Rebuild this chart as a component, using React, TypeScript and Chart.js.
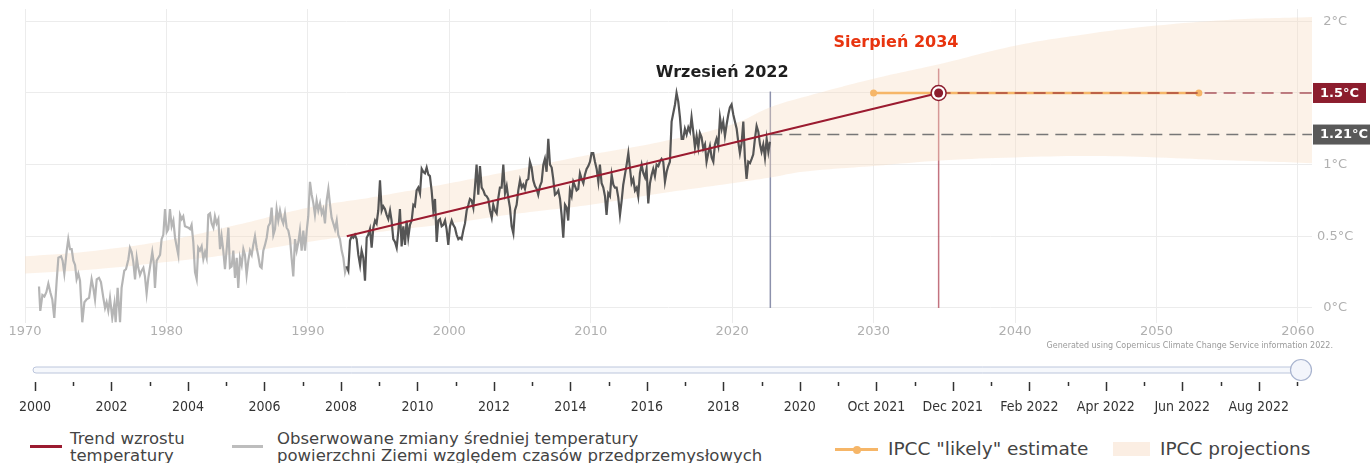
import React, { useEffect, useRef } from 'react';
import { Chart, registerables } from 'chart.js';

Chart.register(...registerables);

// ---------- axis ticks ----------
const xTickYears = [1970, 1980, 1990, 2000, 2010, 2020, 2030, 2040, 2050, 2060];
const yTickValues = [0, 0.5, 1, 1.5, 2];
const axisStartYear = 1970;
const axisEndYear = 2061;

// ---------- observed anomaly (°C vs pre-industrial) ----------
const observedEarlyYears = [
  1970.99, 1971.08, 1971.23, 1971.37, 1971.51, 1971.65, 1971.79, 1971.93, 1972.07, 1972.24, 1972.36, 1972.55, 1972.66, 1972.78, 1972.95,
  1973.06, 1973.18, 1973.3, 1973.42, 1973.54, 1973.65, 1973.77, 1973.89, 1974.05, 1974.2, 1974.36, 1974.53, 1974.71, 1974.83, 1974.95,
  1975.07, 1975.23, 1975.37, 1975.54, 1975.66, 1975.77, 1975.89, 1976.01, 1976.17, 1976.32, 1976.41, 1976.55, 1976.72, 1976.83,
  1977.02, 1977.14, 1977.31, 1977.42, 1977.54, 1977.66, 1977.78, 1977.9, 1978.01, 1978.13, 1978.25, 1978.37, 1978.48, 1978.6, 1978.72, 1978.91,
  1979.0, 1979.1, 1979.19, 1979.31, 1979.43, 1979.55, 1979.66, 1979.78, 1979.9, 1980.02, 1980.13, 1980.25, 1980.37, 1980.49, 1980.61,
  1980.72, 1980.84, 1980.96, 1981.08, 1981.19, 1981.31, 1981.55, 1981.67, 1981.78, 1981.9, 1982.02,
  1982.14, 1982.25, 1982.37, 1982.49, 1982.61, 1982.73, 1982.84, 1982.96, 1983.08, 1983.2, 1983.32, 1983.43, 1983.55, 1983.67, 1983.79,
  1983.9, 1984.02, 1984.14, 1984.26, 1984.38, 1984.49, 1984.61, 1984.73, 1984.85, 1984.97, 1985.08, 1985.2, 1985.32, 1985.44, 1985.55,
  1985.67, 1985.79, 1985.91, 1986.03, 1986.14, 1986.26, 1986.38, 1986.5, 1986.62, 1986.73, 1986.85, 1986.97, 1987.09, 1987.2, 1987.32,
  1987.44, 1987.56, 1987.68, 1987.79, 1987.91, 1988.03, 1988.15, 1988.26, 1988.38, 1988.5, 1988.62, 1988.74, 1988.85, 1988.97, 1989.09,
  1989.21, 1989.33, 1989.44, 1989.56, 1989.68, 1989.8, 1989.92, 1990.03, 1990.15, 1990.27, 1990.39, 1990.5, 1990.62, 1990.74, 1990.86,
  1990.98, 1991.09, 1991.21, 1991.33, 1991.45, 1991.57, 1991.68, 1991.8, 1991.92, 1992.04, 1992.15, 1992.27, 1992.39, 1992.51, 1992.63, 1992.74,
];
const observedEarlyValues = [
  0.15, -0.02, 0.09, 0.08, 0.11, 0.17, 0.11, 0.06, -0.07, 0.19, 0.35, 0.36, 0.33, 0.24, 0.4,
  0.48, 0.41, 0.41, 0.33, 0.3, 0.2, 0.24, 0.19, -0.1, 0.04, 0.06, 0.07, 0.2, 0.14, 0.06,
  0.2, 0.21, 0.18, 0.07, 0.0, 0.04, -0.02, 0.07, -0.07, 0.03, -0.1, 0.14, -0.1, 0.14,
  0.26, 0.27, 0.34, 0.42, 0.39, 0.32, 0.2, 0.35, 0.28, 0.23, 0.26, 0.28, 0.22, 0.1, 0.21, 0.33,
  0.39, 0.32, 0.14, 0.33, 0.35, 0.37, 0.48, 0.51, 0.69, 0.53, 0.55, 0.69, 0.57, 0.61, 0.49,
  0.43, 0.37, 0.65, 0.62, 0.64, 0.57, 0.56, 0.55, 0.58, 0.46, 0.25,
  0.2, 0.42, 0.4, 0.43, 0.34, 0.39, 0.35, 0.65, 0.66, 0.59, 0.56, 0.64, 0.59, 0.62, 0.41,
  0.5, 0.4, 0.27, 0.41, 0.56, 0.28, 0.29, 0.4, 0.21, 0.35, 0.14, 0.35, 0.3, 0.41, 0.37,
  0.23, 0.33, 0.4, 0.37, 0.44, 0.5, 0.42, 0.36, 0.29, 0.28, 0.4, 0.44, 0.49, 0.57, 0.59,
  0.7, 0.51, 0.55, 0.69, 0.61, 0.68, 0.62, 0.59, 0.66, 0.56, 0.54, 0.48, 0.35, 0.22, 0.48,
  0.4, 0.46, 0.54, 0.4, 0.54, 0.4, 0.54, 0.64, 0.88, 0.79, 0.73, 0.65, 0.75, 0.68, 0.73,
  0.66, 0.69, 0.59, 0.75, 0.83, 0.72, 0.63, 0.59, 0.55, 0.61, 0.51, 0.48, 0.4, 0.35, 0.25, 0.29,
];

const observedRecentYears = [
  1992.74, 1992.86, 1992.98, 1993.1, 1993.21, 1993.33, 1993.45, 1993.57, 1993.69, 1993.8, 1993.92, 1994.04,
  1994.16, 1994.27, 1994.39, 1994.51, 1994.63, 1994.75, 1994.86, 1994.98, 1995.1, 1995.22, 1995.33, 1995.45, 1995.57, 1995.69, 1995.81,
  1995.92, 1996.04, 1996.16, 1996.28, 1996.4, 1996.51, 1996.63, 1996.75, 1996.87, 1996.98, 1997.1, 1997.22, 1997.34, 1997.46, 1997.57,
  1997.69, 1997.81, 1997.93, 1998.05, 1998.16, 1998.28, 1998.4, 1998.52, 1998.63, 1998.75, 1998.87, 1998.99, 1999.11, 1999.22, 1999.34,
  1999.46, 1999.58, 1999.7, 1999.81, 1999.93, 2000.05, 2000.17, 2000.28, 2000.4, 2000.52, 2000.64, 2000.76, 2000.87, 2000.99, 2001.11,
  2001.23, 2001.35, 2001.46, 2001.58, 2001.7, 2001.82, 2001.93, 2002.05, 2002.17, 2002.29, 2002.41, 2002.52, 2002.64, 2002.76, 2002.88,
  2003.0, 2003.11, 2003.23, 2003.35, 2003.47, 2003.58, 2003.7, 2003.82, 2003.94, 2004.06, 2004.17, 2004.29, 2004.41, 2004.53, 2004.64,
  2004.76, 2004.88, 2005.0, 2005.12, 2005.23, 2005.35, 2005.47, 2005.59, 2005.7, 2005.82, 2005.94, 2006.06, 2006.18, 2006.29,
  2006.41, 2006.53, 2006.65, 2006.76, 2006.88, 2007.0, 2007.12, 2007.24, 2007.35, 2007.47, 2007.59, 2007.71, 2007.83, 2007.94, 2008.06,
  2008.18, 2008.3, 2008.41, 2008.53, 2008.65, 2008.77, 2008.89, 2009.0, 2009.12, 2009.24, 2009.36, 2009.48, 2009.59, 2009.71, 2009.83,
  2009.95, 2010.06, 2010.18, 2010.3, 2010.42, 2010.54, 2010.65, 2010.77, 2010.89, 2011.01, 2011.12, 2011.24, 2011.36, 2011.48, 2011.6,
  2011.71, 2011.83, 2011.95, 2012.07, 2012.19, 2012.3, 2012.42, 2012.54, 2012.66, 2012.77, 2012.89, 2013.01, 2013.13, 2013.25, 2013.36,
  2013.48, 2013.6, 2013.72, 2013.84, 2013.95, 2014.07, 2014.19, 2014.31, 2014.42, 2014.54, 2014.66, 2014.78,
  2014.89, 2015.01, 2015.13, 2015.25, 2015.37, 2015.48, 2015.6, 2015.72, 2015.84, 2015.96, 2016.07, 2016.19, 2016.31, 2016.43, 2016.54,
  2016.66, 2016.78, 2016.9, 2017.02, 2017.13, 2017.25, 2017.37, 2017.49, 2017.61, 2017.72, 2017.84, 2017.96, 2018.08, 2018.19, 2018.31,
  2018.43, 2018.55, 2018.67, 2018.78, 2018.9, 2019.02, 2019.14, 2019.26, 2019.37, 2019.49, 2019.61, 2019.73, 2019.84, 2019.96, 2020.08,
  2020.2, 2020.32, 2020.43, 2020.55, 2020.67, 2020.79, 2020.9, 2021.02, 2021.14, 2021.26, 2021.38, 2021.49, 2021.61, 2021.73, 2021.85,
  2021.97, 2022.08, 2022.2, 2022.32, 2022.44, 2022.56, 2022.67,
];
const observedRecentValues = [
  0.29, 0.26, 0.47, 0.5, 0.49, 0.51, 0.48, 0.37, 0.3, 0.4, 0.35, 0.19,
  0.49, 0.51, 0.55, 0.42, 0.56, 0.61, 0.59, 0.68, 0.89, 0.68, 0.71, 0.69, 0.65, 0.62, 0.68,
  0.61, 0.48, 0.46, 0.42, 0.54, 0.69, 0.43, 0.57, 0.44, 0.61, 0.49, 0.58, 0.61, 0.72, 0.71,
  0.82, 0.84, 0.8, 0.97, 0.95, 0.94, 0.98, 0.93, 0.92, 0.82, 0.68, 0.76, 0.46, 0.61, 0.62,
  0.57, 0.58, 0.61, 0.55, 0.44, 0.57, 0.61, 0.58, 0.56, 0.51, 0.48, 0.49, 0.48, 0.54, 0.59,
  0.68, 0.72, 0.76, 0.75, 0.7, 0.85, 1.0, 0.79, 0.99, 0.84, 0.82, 0.79, 0.78, 0.76, 0.68,
  0.63, 0.72, 0.68, 0.66, 0.77, 0.84, 0.84, 1.0, 0.8, 0.85, 0.77, 0.7, 0.57, 0.52, 0.68,
  0.72, 0.82, 0.89, 0.84, 0.86, 0.83, 0.89, 0.9, 1.02, 0.98, 0.89, 0.85, 0.83, 0.79,
  0.85, 0.88, 1.0, 1.04, 0.95, 1.18, 1.0, 0.98, 0.9, 0.79, 0.8, 0.82, 0.76, 0.65, 0.49,
  0.72, 0.7, 0.61, 0.82, 0.78, 0.88, 0.85, 0.82, 0.83, 0.94, 0.9, 0.87, 0.93, 0.97, 0.99,
  1.02, 1.08, 1.08, 1.02, 0.97, 0.88, 1.0, 0.87, 0.84, 0.78, 0.65, 0.8, 0.78, 0.93, 0.86,
  0.84, 0.84, 0.77, 0.65, 0.75, 0.86, 0.93, 1.0, 1.08, 0.98, 0.87, 0.9, 0.82, 0.84, 0.78,
  0.94, 1.0, 0.94, 0.91, 0.97, 0.73, 0.87, 0.93, 0.97, 0.92, 1.0, 0.99,
  1.02, 1.04, 1.02, 0.88, 0.95, 0.99, 1.02, 1.3, 1.36, 1.42, 1.5, 1.44, 1.33, 1.18, 1.18,
  1.25, 1.21, 1.26, 1.23, 1.33, 1.23, 1.12, 1.2, 1.12, 1.22, 1.19, 1.11, 1.14, 1.02, 1.08,
  1.13, 1.05, 1.02, 1.14, 1.18, 1.13, 1.33, 1.25, 1.3, 1.2, 1.28, 1.35, 1.4, 1.42, 1.35,
  1.3, 1.25, 1.16, 1.08, 1.15, 1.3, 1.05, 0.9, 1.02, 1.01, 1.04, 1.07, 1.18, 1.27, 1.23,
  1.14, 1.09, 1.14, 1.05, 1.18, 1.09, 1.16,
];

// ---------- IPCC projection band ----------
const projectionYears = [1970, 1975, 1980, 1985, 1990, 1995, 2000, 2005, 2010, 2015, 2020, 2022.7, 2025, 2030, 2035, 2040, 2045, 2050, 2055, 2061];
const projectionLower = [0.24, 0.27, 0.32, 0.38, 0.46, 0.53, 0.59, 0.66, 0.72, 0.8, 0.87, 0.91, 0.95, 0.99, 1.03, 1.05, 1.06, 1.05, 1.03, 1.01];
const projectionUpper = [0.36, 0.4, 0.47, 0.58, 0.7, 0.78, 0.87, 0.97, 1.07, 1.16, 1.28, 1.4, 1.47, 1.6, 1.71, 1.83, 1.91, 1.97, 2.01, 2.03];

// ---------- trend, likely estimate, levels ----------
const trendYears = [1992.75, 2034.6];
const trendValues = [0.5, 1.5];
const likelyYears = [2030.0, 2053.0];
const likelyValues = [1.5, 1.5];
const lastObservationYear = 2022.7;
const crossingYear = 2034.6;
const currentLevel = 1.21;
const targetLevel = 1.5;
const currentLabel = '1.21°C';
const targetLabel = '1.5°C';
const lastObservationTitle = 'Wrzesień 2022';
const crossingTitle = 'Sierpień 2034';

// ---------- slider axis ----------
const sliderLabels = [
  '2000', '', '2002', '', '2004', '', '2006', '', '2008', '', '2010', '', '2012', '', '2014', '', '2016', '',
  '2018', '', '2020', '', 'Oct 2021', '', 'Dec 2021', '', 'Feb 2022', '', 'Apr 2022', '', 'Jun 2022', '', 'Aug 2022', '',
];

const FONT = '"DejaVu Sans", Verdana, sans-serif';
const COND = '"DejaVu Sans Condensed", "Liberation Sans Narrow", "DejaVu Sans", sans-serif';

const zip = (xs: number[], ys: number[]) => xs.map((x, i) => ({ x, y: ys[i] }));

const annotationPlugin = {
  id: 'annotations',
  beforeDatasetsDraw(chart: any) {
    const { ctx, scales } = chart;
    const x = scales.x, y = scales.y;
    ctx.save();
    ctx.lineWidth = 1.5;
    ctx.strokeStyle = 'rgba(120,126,158,0.85)';
    let px = x.getPixelForValue(lastObservationYear);
    ctx.beginPath();
    ctx.moveTo(px, y.getPixelForValue(targetLevel + 0.01));
    ctx.lineTo(px, y.getPixelForValue(0));
    ctx.stroke();
    ctx.strokeStyle = 'rgba(170,55,72,0.7)';
    px = x.getPixelForValue(crossingYear);
    ctx.beginPath();
    ctx.moveTo(px, y.getPixelForValue(1.67));
    ctx.lineTo(px, y.getPixelForValue(0));
    ctx.stroke();
    ctx.restore();
  },
  afterDatasetsDraw(chart: any) {
    const { ctx, scales, chartArea } = chart;
    const x = scales.x, y = scales.y;
    ctx.save();
    ctx.textAlign = 'center';
    ctx.textBaseline = 'middle';
    ctx.font = `bold 16px ${FONT}`;
    ctx.fillStyle = '#1e1e1e';
    ctx.fillText(lastObservationTitle, x.getPixelForValue(2019.3), y.getPixelForValue(1.638));
    ctx.fillStyle = '#e8340f';
    ctx.fillText(crossingTitle, x.getPixelForValue(2031.58), y.getPixelForValue(1.847));

    const boxes = [
      { v: targetLevel, text: targetLabel, color: '#8c1d2e', w: 53 },
      { v: currentLevel, text: currentLabel, color: '#595959', w: 60 },
    ];
    ctx.font = `bold 13px ${FONT}`;
    ctx.textAlign = 'left';
    for (const b of boxes) {
      const py = y.getPixelForValue(b.v);
      ctx.fillStyle = b.color;
      ctx.fillRect(chartArea.right + 1, py - 10, b.w, 20);
      ctx.fillStyle = '#ffffff';
      ctx.fillText(b.text, chartArea.right + 8, py + 0.5);
    }
    ctx.restore();
  },
};

const sliderPlugin = {
  id: 'slider',
  beforeDraw(chart: any) {
    const { ctx, chartArea: a } = chart;
    ctx.save();
    const x0 = a.left - 2, x1 = a.right + 4, cy = 15;
    ctx.beginPath();
    ctx.roundRect(x0, cy - 3, x1 - x0, 6, 3);
    ctx.fillStyle = '#f6f8fc';
    ctx.fill();
    ctx.lineWidth = 1;
    ctx.strokeStyle = '#bcc6dc';
    ctx.stroke();
    ctx.beginPath();
    ctx.arc(x1, cy, 10.5, 0, Math.PI * 2);
    ctx.fillStyle = '#f3f5fb';
    ctx.fill();
    ctx.lineWidth = 1.2;
    ctx.strokeStyle = '#a9b4cf';
    ctx.stroke();
    ctx.restore();
  },
  afterDraw(chart: any) {
    const { ctx, chartArea: a, scales } = chart;
    const sx = scales.x;
    ctx.save();
    ctx.strokeStyle = '#333';
    ctx.lineWidth = 1.5;
    sliderLabels.forEach((lab, i) => {
      const px = Math.round(sx.getPixelForTick(i)) + 0.5;
      ctx.beginPath();
      ctx.moveTo(px, a.bottom);
      ctx.lineTo(px, a.bottom + (lab ? 9 : 4));
      ctx.stroke();
    });
    ctx.restore();
  },
};

export default function App() {
  const mainRef = useRef<HTMLCanvasElement>(null);
  const sliderRef = useRef<HTMLCanvasElement>(null);

  useEffect(() => {
    Chart.defaults.font.family = FONT;
    const main = new Chart(mainRef.current as HTMLCanvasElement, {
      type: 'line',
      data: {
        datasets: [
          {
            label: 'IPCC projections',
            data: zip(projectionYears, projectionUpper),
            borderWidth: 0,
            pointRadius: 0,
            tension: 0.4,
            fill: '+1',
            backgroundColor: 'rgba(246,218,190,0.36)',
            order: 20,
          },
          {
            label: 'IPCC projections (low)',
            data: zip(projectionYears, projectionLower),
            borderWidth: 0,
            pointRadius: 0,
            tension: 0.4,
            fill: false,
            order: 21,
          },
          {
            label: 'Obserwowane (wcześniej)',
            data: zip(observedEarlyYears, observedEarlyValues),
            borderColor: '#b5b5b5',
            borderWidth: 2.2,
            pointRadius: 0,
            order: 9,
          },
          {
            label: 'Obserwowane (ostatnie 30 lat)',
            data: zip(observedRecentYears, observedRecentValues),
            borderColor: '#555555',
            borderWidth: 2.2,
            pointRadius: 0,
            order: 8,
          },
          {
            label: 'current',
            data: zip([lastObservationYear, axisEndYear], [currentLevel, currentLevel]),
            borderColor: '#777777',
            borderWidth: 1.5,
            borderDash: [12, 7],
            pointRadius: 0,
            order: 7,
          },
          {
            label: 'IPCC "likely" estimate',
            data: zip(likelyYears, likelyValues),
            borderColor: '#f6b668',
            borderWidth: 2.5,
            pointRadius: 3.5,
            pointBackgroundColor: '#f6b668',
            pointBorderWidth: 0,
            order: 6,
          },
          {
            label: 'target',
            data: zip([crossingYear, axisEndYear], [targetLevel, targetLevel]),
            borderColor: 'rgba(140,29,46,0.72)',
            borderWidth: 1.5,
            borderDash: [12, 7],
            pointRadius: 0,
            order: 5,
          },
          {
            label: 'Trend wzrostu temperatury',
            data: zip(trendYears, trendValues),
            borderColor: '#9b1b30',
            borderWidth: 2,
            pointRadius: 0,
            order: 4,
          },
          {
            label: 'crossing ring',
            data: zip([crossingYear], [targetLevel]),
            showLine: false,
            pointRadius: 7.5,
            pointBackgroundColor: '#ffffff',
            pointBorderColor: '#8c1d2e',
            pointBorderWidth: 1.5,
            order: 3,
          },
          {
            label: 'crossing dot',
            data: zip([crossingYear], [targetLevel]),
            showLine: false,
            pointRadius: 4.5,
            pointBackgroundColor: '#8c1d2e',
            pointBorderWidth: 0,
            order: 2,
          },
        ] as any,
      },
      options: {
        responsive: false,
        animation: false,
        events: [],
        layout: { padding: { left: 25, right: 0, top: 4, bottom: 0 } },
        plugins: { legend: { display: false }, tooltip: { enabled: false } },
        scales: {
          x: {
            type: 'linear',
            min: axisStartYear,
            max: axisEndYear,
            afterBuildTicks: (s: any) => {
              s.ticks = xTickYears.map((value) => ({ value }));
            },
            afterFit: (s: any) => {
              s.height = 22;
              s.paddingLeft = 0;
              s.paddingRight = 0;
            },
            grid: { color: '#ececec', drawTicks: false },
            border: { display: false },
            ticks: {
              padding: 1,
              color: '#b0b0b0',
              font: { family: FONT, size: 13 },
              maxRotation: 0,
              autoSkip: false,
              callback: (v: any) => String(v),
            },
          },
          y: {
            type: 'linear',
            position: 'right',
            min: -0.105,
            max: 2.086,
            afterBuildTicks: (s: any) => {
              s.ticks = yTickValues.map((value) => ({ value }));
            },
            afterFit: (s: any) => {
              s.width = 58;
              s.paddingTop = 0;
              s.paddingBottom = 0;
            },
            grid: { color: '#ececec', drawTicks: false },
            border: { display: false },
            ticks: {
              padding: 5,
              crossAlign: 'center',
              color: '#b0b0b0',
              font: { family: FONT, size: 13 },
              callback: (v: any) => (v === targetLevel ? '' : `${v}°C`),
            },
          },
        },
      } as any,
      plugins: [annotationPlugin],
    });

    const slider = new Chart(sliderRef.current as HTMLCanvasElement, {
      type: 'line',
      data: { labels: sliderLabels, datasets: [{ data: [] }] },
      options: {
        responsive: false,
        animation: false,
        events: [],
        layout: { padding: { left: 35, right: 73, top: 5, bottom: 5 } },
        plugins: { legend: { display: false }, tooltip: { enabled: false } },
        scales: {
          x: {
            type: 'category',
            offset: false,
            grid: { display: false, drawTicks: false },
            border: { display: false },
            afterFit: (s: any) => {
              s.height = 33;
            },
            ticks: {
              autoSkip: false,
              maxRotation: 0,
              padding: 17,
              color: '#333333',
              font: { family: COND, size: 14 },
            },
          },
          y: { display: false },
        },
      } as any,
      plugins: [sliderPlugin],
    });

    return () => {
      main.destroy();
      slider.destroy();
    };
  }, []);

  const legendText: React.CSSProperties = {
    position: 'absolute',
    fontFamily: FONT,
    color: '#444',
    whiteSpace: 'nowrap',
  };

  return (
    <div style={{ position: 'fixed', left: 0, top: 0, width: 1370, height: 463, background: '#fff', overflow: 'hidden' }}>
      <canvas ref={mainRef} width={1370} height={345} style={{ position: 'absolute', left: 0, top: 0 }} />
      <div
        style={{
          position: 'absolute',
          right: 37,
          top: 341,
          fontFamily: FONT,
          fontSize: 8,
          lineHeight: '10px',
          color: '#9a9a9a',
          whiteSpace: 'nowrap',
        }}
      >
        Generated using Copernicus Climate Change Service information 2022.
      </div>
      <canvas ref={sliderRef} width={1370} height={65} style={{ position: 'absolute', left: 0, top: 355 }} />

      <div style={{ position: 'absolute', left: 30, top: 445, width: 32, height: 3, background: '#9b1b30' }} />
      <div style={{ ...legendText, left: 70, top: 430, fontSize: 16.5, lineHeight: '17px' }}>
        Trend wzrostu
        <br />
        temperatury
      </div>
      <div style={{ position: 'absolute', left: 232, top: 445, width: 31, height: 3, background: '#bdbdbd' }} />
      <div style={{ ...legendText, left: 277, top: 430, fontSize: 16.5, lineHeight: '17px' }}>
        Obserwowane zmiany średniej temperatury
        <br />
        powierzchni Ziemi względem czasów przedprzemysłowych
      </div>
      <div style={{ position: 'absolute', left: 835, top: 448, width: 43, height: 3, background: '#f6b668' }} />
      <div style={{ position: 'absolute', left: 853, top: 445.5, width: 8, height: 8, borderRadius: '50%', background: '#f6b668' }} />
      <div style={{ ...legendText, left: 888, top: 438, fontSize: 18.5, lineHeight: '22px' }}>IPCC "likely" estimate</div>
      <div style={{ position: 'absolute', left: 1113, top: 442, width: 37, height: 14, background: '#fbeee3' }} />
      <div style={{ ...legendText, left: 1160, top: 438, fontSize: 18.5, lineHeight: '22px' }}>IPCC projections</div>
    </div>
  );
}
